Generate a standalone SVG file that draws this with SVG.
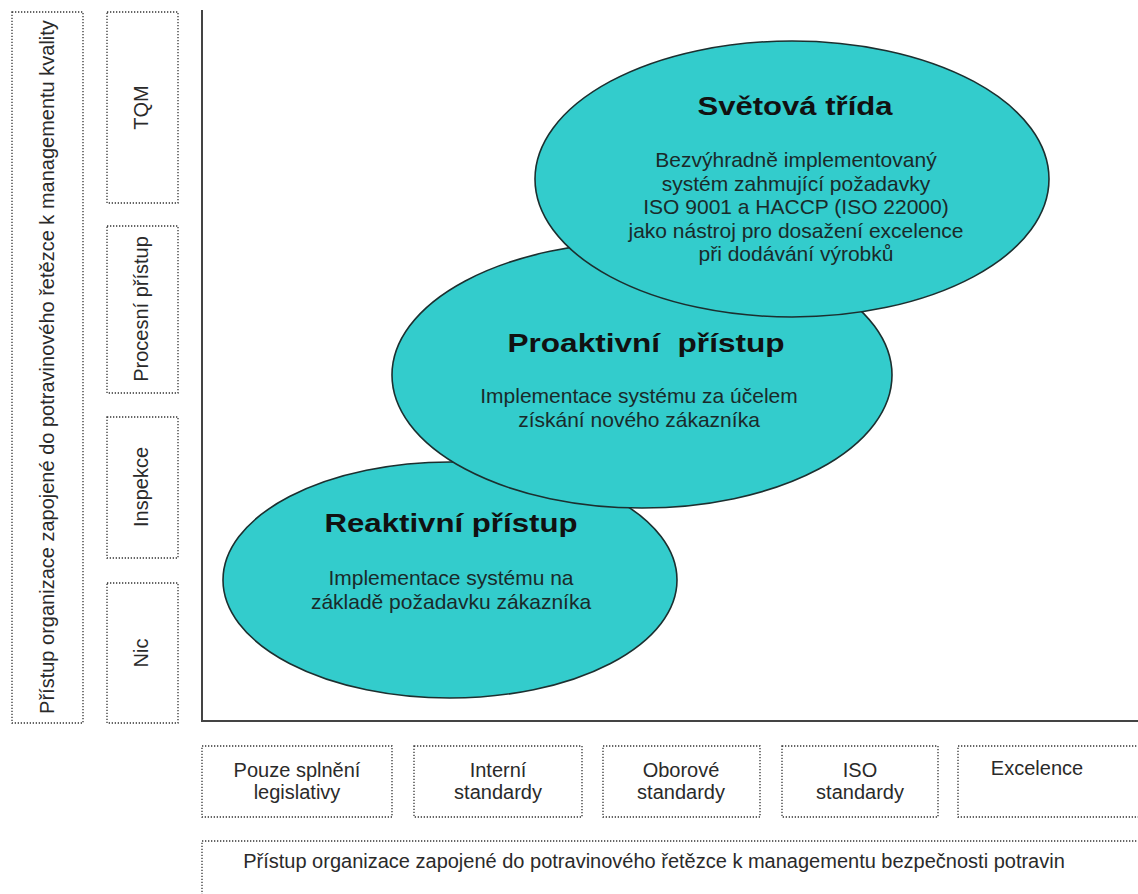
<svg xmlns="http://www.w3.org/2000/svg" width="1138" height="894" viewBox="0 0 1138 894">
<style>
.box{fill:none;stroke:#333;stroke-width:1.3;stroke-dasharray:1.3 1.7}
.lbl{font-family:"Liberation Sans",Arial,sans-serif;font-size:20px;fill:#2a2a2a;text-anchor:middle}
.ell{fill:#33CCCC;stroke:#1c2f2f;stroke-width:1.6}
.ttl{font-family:"Liberation Sans",Arial,sans-serif;font-size:25px;font-weight:bold;fill:#111;text-anchor:middle}
.body{font-family:"Liberation Sans",Arial,sans-serif;font-size:21px;fill:#1a2a2a;text-anchor:middle}
.axis{stroke:#444;stroke-width:2;fill:none}
</style>
<rect width="1138" height="894" fill="#fff"/>

<g id="connectors">
<path class="axis" d="M202 10 V721 H1138"/>
</g>

<g id="y-axis-title">
<rect class="box" x="12" y="12" width="71" height="711"/>
<text class="lbl" transform="translate(54 367) rotate(-90)">Přístup organizace zapojené do potravinového řetězce k managementu kvality</text>
</g>
<g id="y-tqm">
<rect class="box" x="107" y="12" width="71" height="191"/>
<text class="lbl" transform="translate(148 107.5) rotate(-90)">TQM</text>
</g>
<g id="y-procesni">
<rect class="box" x="107" y="226" width="71" height="167"/>
<text class="lbl" transform="translate(148 309) rotate(-90)">Procesní přístup</text>
</g>
<g id="y-inspekce">
<rect class="box" x="107" y="417" width="71" height="141"/>
<text class="lbl" transform="translate(148 487) rotate(-90)">Inspekce</text>
</g>
<g id="y-nic">
<rect class="box" x="107" y="583" width="71" height="140"/>
<text class="lbl" transform="translate(148 653) rotate(-90)">Nic</text>
</g>

<g id="x-legislativa">
<rect class="box" x="202" y="746" width="190" height="71"/>
<text class="lbl" x="297" y="777">Pouze splnění</text>
<text class="lbl" x="297" y="799">legislativy</text>
</g>
<g id="x-interni">
<rect class="box" x="414" y="746" width="168" height="71"/>
<text class="lbl" x="498" y="777">Interní</text>
<text class="lbl" x="498" y="799">standardy</text>
</g>
<g id="x-oborove">
<rect class="box" x="603" y="746" width="157" height="71"/>
<text class="lbl" x="681" y="777">Oborové</text>
<text class="lbl" x="681" y="799">standardy</text>
</g>
<g id="x-iso">
<rect class="box" x="782" y="746" width="156" height="71"/>
<text class="lbl" x="860" y="777">ISO</text>
<text class="lbl" x="860" y="799">standardy</text>
</g>
<g id="x-excelence">
<rect class="box" x="958" y="746" width="190" height="71"/>
<text class="lbl" x="1037" y="775">Excelence</text>
</g>
<g id="x-axis-title">
<rect class="box" x="202" y="841" width="950" height="70"/>
<text class="lbl" x="654" y="868">Přístup organizace zapojené do potravinového řetězce k managementu bezpečnosti potravin</text>
</g>

<g id="reaktivni">
<ellipse class="ell" cx="450" cy="580" rx="227" ry="118"/>
<text class="ttl" x="451" y="532" textLength="253" lengthAdjust="spacingAndGlyphs">Reaktivní přístup</text>
<text class="body" x="451" y="585">Implementace systému na</text>
<text class="body" x="451" y="609">základě požadavku zákazníka</text>
</g>
<g id="proaktivni">
<ellipse class="ell" cx="642" cy="375" rx="250" ry="133"/>
<text class="ttl" x="646" y="352" textLength="277" lengthAdjust="spacingAndGlyphs" xml:space="preserve">Proaktivní  přístup</text>
<text class="body" x="639" y="403">Implementace systému za účelem</text>
<text class="body" x="639" y="427">získání nového zákazníka</text>
</g>
<g id="svetova">
<ellipse class="ell" cx="792" cy="179" rx="257" ry="138"/>
<text class="ttl" x="795" y="115" textLength="195" lengthAdjust="spacingAndGlyphs">Světová třída</text>
<text class="body" x="796" y="167">Bezvýhradně implementovaný</text>
<text class="body" x="796" y="190.5">systém zahmující požadavky</text>
<text class="body" x="796" y="214">ISO 9001 a HACCP (ISO 22000)</text>
<text class="body" x="796" y="237.5">jako nástroj pro dosažení excelence</text>
<text class="body" x="796" y="261">při dodávání výrobků</text>
</g>
</svg>
